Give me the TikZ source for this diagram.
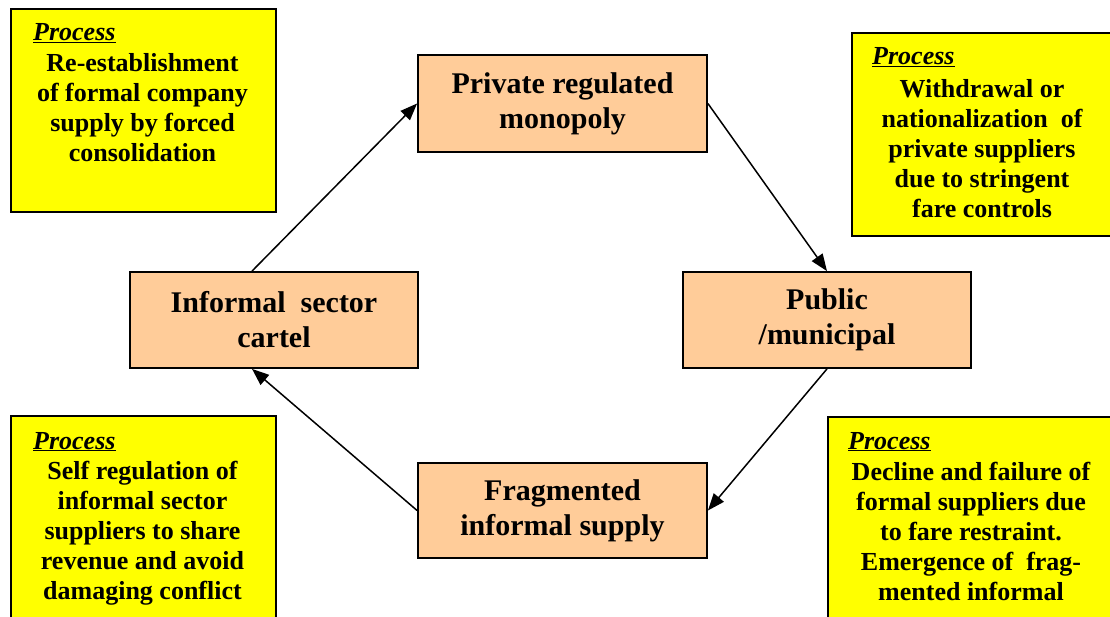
\documentclass[tikz,border=0pt]{standalone}
\usepackage{fontspec}
\setmainfont{Liberation Serif}
\usetikzlibrary{arrows.meta}
\definecolor{procyellow}{HTML}{FFFF00}
\definecolor{statepeach}{HTML}{FFCC99}
\tikzset{
  statebox/.style={draw=black, line width=1.8pt, fill=statepeach, align=center,
    inner sep=0pt, font=\fontsize{30}{35}\selectfont\bfseries},
  procbox/.style={draw=black, line width=1.8pt, fill=procyellow, inner sep=0pt, anchor=north west},
  proctitle/.style={anchor=base west, inner sep=0pt, font=\fontsize{26}{30}\selectfont\bfseries\itshape},
  proctext/.style={anchor=north, inner sep=0pt, align=center, font=\fontsize{26}{30}\selectfont\bfseries},
  flow/.style={line width=1.5pt, -{Triangle[length=17pt,width=13pt]}}
}
\begin{document}
\begin{tikzpicture}[x=1pt,y=-1pt]
\useasboundingbox (0,0) rectangle (1110,617);
\fill[white] (0,0) rectangle (1110,617);

% state boxes
\node[statebox, minimum width=289pt, minimum height=97pt] (private) at (562.5,103.5) {Private regulated\\monopoly};
\node[statebox, minimum width=288pt, minimum height=96pt] (cartel) at (274,320) {Informal\ \ sector\\cartel};
\node[statebox, minimum width=288pt, minimum height=96pt] (public) at (827,320) {Public\\/municipal};
\node[statebox, minimum width=289pt, minimum height=95pt] (frag) at (562.5,510.5) {Fragmented\\informal supply};

% process boxes
\node[procbox, minimum width=265pt, minimum height=203pt] (tl) at (10,8) {};
\node[proctitle] (tlt) at (33,41) {\underline{Process}};
\node[proctext] (tlx) at (142.5,53) {Re-establishment\\of formal company\\supply by forced\\consolidation};

\node[procbox, minimum width=262pt, minimum height=203pt] (tr) at (851,32) {};
\node[proctitle] (trt) at (872,65) {\underline{Process}};
\node[proctext] (trx) at (982,79) {Withdrawal or\\nationalization\ \ of\\private suppliers\\due to stringent\\fare controls};

\node[procbox, minimum width=265pt, minimum height=215pt] (bl) at (10,415) {};
\node[proctitle] (blt) at (33,449) {\underline{Process}};
\node[proctext] (blx) at (142.5,461) {Self regulation of\\informal sector\\suppliers to share\\revenue and avoid\\damaging conflict};

\node[procbox, minimum width=290pt, minimum height=215pt] (br) at (827,416) {};
\node[proctitle] (brt) at (848,449) {\underline{Process}};
\node[proctext] (brx) at (971,462) {Decline and failure of\\formal suppliers due\\to fare restraint.\\Emergence of\ \ frag-\\mented informal};

% connectors
\draw[flow] ([xshift=-22pt]cartel.north) -- (private.west);
\draw[flow] (private.east) -- (public.north);
\draw[flow] (public.south) -- (frag.east);
\draw[flow] (frag.west) -- ([xshift=-22pt]cartel.south);
\end{tikzpicture}
\end{document}
